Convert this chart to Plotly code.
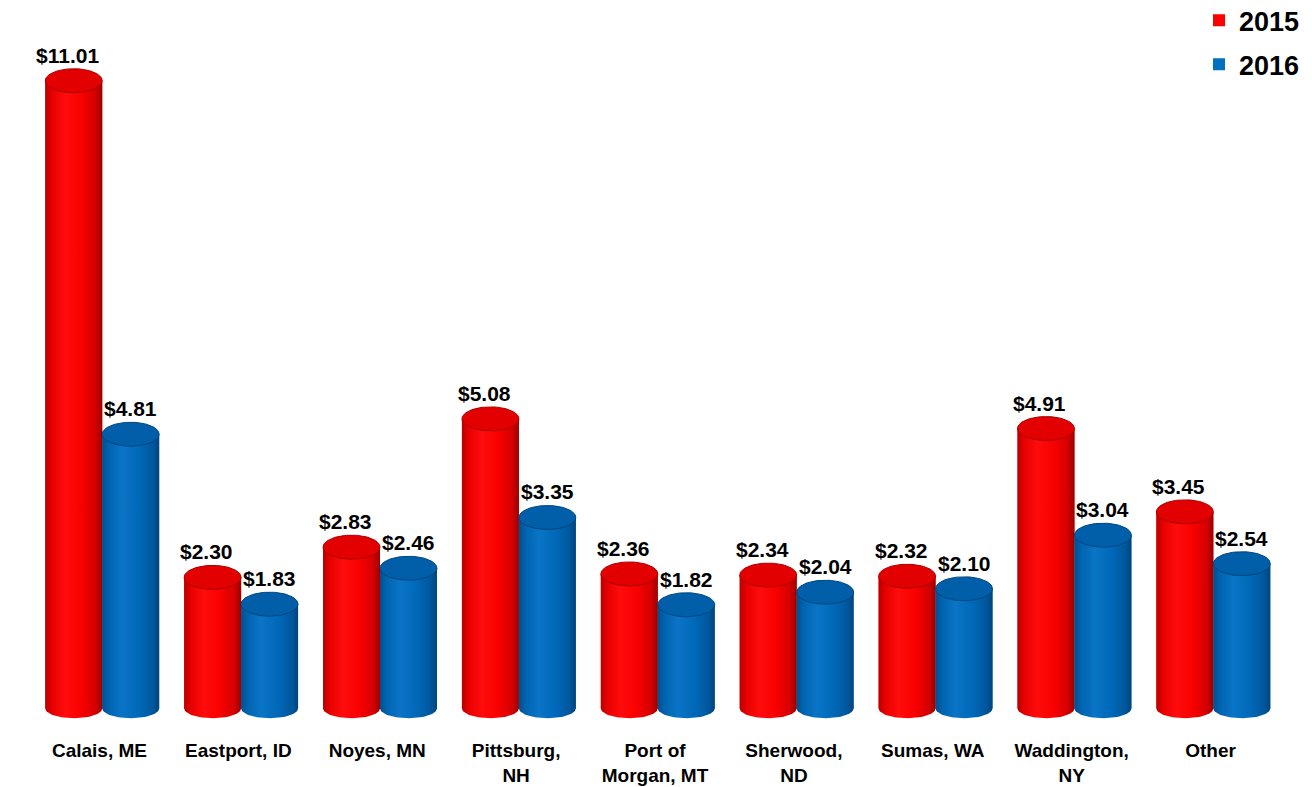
import numpy as np
import plotly.graph_objects as go

categories = ["Calais, ME", "Eastport, ID", "Noyes, MN", "Pittsburg,<br>NH", "Port of<br>Morgan, MT",
              "Sherwood,<br>ND", "Sumas, WA", "Waddington,<br>NY", "Other"]
values_2015 = [11.01, 2.30, 2.83, 5.08, 2.36, 2.34, 2.32, 4.91, 3.45]
values_2016 = [4.81, 1.83, 2.46, 3.35, 1.82, 2.04, 2.10, 3.04, 2.54]
series_names = ["2015", "2016"]

positions = np.arange(len(categories))
BAR_W = 0.41
OFFSETS = [-0.39, 0.02]
CAP_H = 0.21      # half-height of top ellipse, in y units
BOT_H = 0.17      # half-height of bottom ellipse

styles = [
    dict(legend="#FF0000",
         grad=[[0, "#B80000"], [0.12, "#E80000"], [0.35, "#FF0C0C"], [0.65, "#F80000"], [0.88, "#D40000"], [1, "#9A0000"]],
         cap="#E20000", capline="#A80000"),
    dict(legend="#0070C0",
         grad=[[0, "#00508E"], [0.12, "#0064B0"], [0.35, "#0A74C6"], [0.65, "#0068B8"], [0.88, "#00589E"], [1, "#00457E"]],
         cap="#005FA8", capline="#00467F"),
]

fig = go.Figure()
all_values = [values_2015, values_2016]

# base bars (carry legend)
for k, vals in enumerate(all_values):
    fig.add_trace(go.Bar(
        x=positions, y=vals, width=BAR_W, offset=OFFSETS[k],
        marker=dict(color=styles[k]["legend"], line=dict(width=0)),
        name=series_names[k], legendgroup=series_names[k], hoverinfo="y",
    ))

t_half = np.linspace(0, np.pi, 40)
t_full = np.linspace(0, 2 * np.pi, 80)

# cylinder bodies with horizontal gradient
for i in positions:
    for k, vals in enumerate(all_values):
        v = vals[i]
        x0 = i + OFFSETS[k]
        x1 = x0 + BAR_W
        xc = (x0 + x1) / 2
        rx = BAR_W / 2
        arc_x = xc + rx * np.cos(t_half)          # from x1 to x0
        arc_y = -BOT_H * np.sin(t_half)
        xs = [x0, x1, x1] + list(arc_x) + [x0, x0]
        ys = [v, v, 0] + list(arc_y) + [0, v]
        fig.add_trace(go.Scatter(
            x=xs, y=ys, mode="lines", fill="toself",
            fillgradient=dict(type="horizontal", colorscale=styles[k]["grad"]),
            line=dict(width=0), showlegend=False, hoverinfo="skip",
        ))

# top caps
for i in positions:
    for k, vals in enumerate(all_values):
        v = vals[i]
        x0 = i + OFFSETS[k]
        xc = x0 + BAR_W / 2
        rx = BAR_W / 2
        fig.add_trace(go.Scatter(
            x=xc + rx * np.cos(t_full), y=v + CAP_H * np.sin(t_full),
            mode="lines", fill="toself", fillcolor=styles[k]["cap"],
            line=dict(width=1, color=styles[k]["capline"]),
            showlegend=False, hoverinfo="skip",
        ))

# value labels
for i in positions:
    for k, vals in enumerate(all_values):
        v = vals[i]
        xc = i + OFFSETS[k] + BAR_W / 2
        fig.add_annotation(
            x=xc, y=v, text=f"${v:.2f}", showarrow=False,
            yanchor="bottom", yshift=12, xshift=-6 if k == 0 else 0,
            font=dict(family="Liberation Sans, Arial", size=21, color="black", weight="bold"),
        )

fig.update_layout(
    width=1312, height=787,
    margin=dict(l=22, r=40, t=2, b=58, autoexpand=False),
    plot_bgcolor="white", paper_bgcolor="white",
    barmode="overlay",
    showlegend=True,
    legend=dict(x=1.02, xanchor="right", y=1.019, yanchor="top",
                font=dict(family="Liberation Sans, Arial", size=27, color="black", weight="bold"),
                tracegroupgap=6, bgcolor="rgba(0,0,0,0)", itemwidth=30),
    xaxis=dict(range=[-0.5, 8.5], tickvals=list(positions), ticktext=categories,
               showgrid=False, zeroline=False, showline=False, ticks="",
               tickfont=dict(family="Liberation Sans, Arial", size=19, color="black", weight="bold")),
    yaxis=dict(range=[-0.5, 12.25], visible=False, showgrid=False, zeroline=False),
)

fig.write_html("out.html")
